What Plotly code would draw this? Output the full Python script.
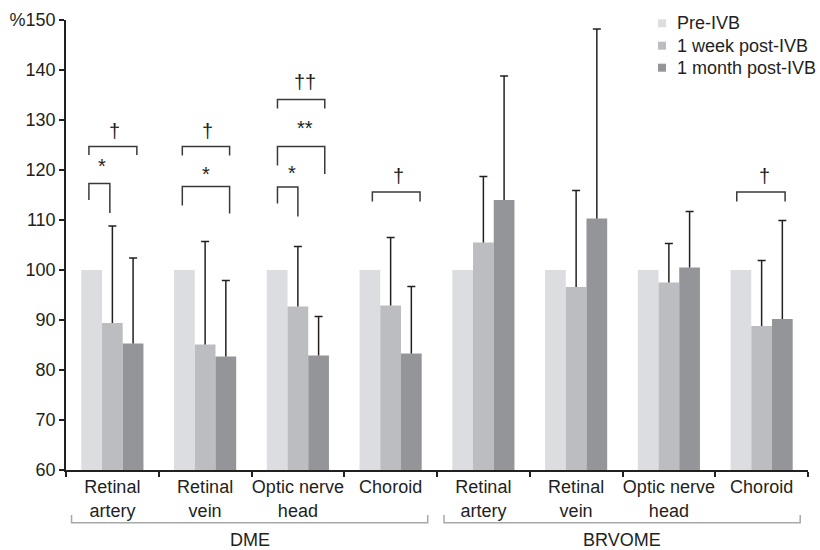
import plotly.graph_objects as go

# ---------------- data ----------------
categories = ["Retinal<br>artery", "Retinal<br>vein", "Optic nerve<br>head", "Choroid",
              "Retinal<br>artery", "Retinal<br>vein", "Optic nerve<br>head", "Choroid"]
groups = ["DME", "BRVOME"]
series_names = ["Pre-IVB", "1 week post-IVB", "1 month post-IVB"]
pre_ivb = [100, 100, 100, 100, 100, 100, 100, 100]
week_post = [89.4, 85.1, 92.7, 92.9, 105.5, 96.6, 97.5, 88.8]
month_post = [85.3, 82.7, 82.9, 83.3, 114.0, 110.3, 100.5, 90.2]
week_sd = [19.4, 20.6, 12.0, 13.6, 13.2, 19.3, 7.8, 13.1]
month_sd = [17.1, 15.2, 7.8, 13.4, 24.8, 37.9, 11.2, 19.7]
y_tickvals = [60, 70, 80, 90, 100, 110, 120, 130, 140, 150]
y_ticktext = ["60", "70", "80", "90", "100", "110", "120", "130", "140", "%150"]

# significance brackets: category index, x-offsets, top, left leg end, right leg end, label, label x-offset, label y
brackets = [
    (0, -0.253, -0.027, 117.3, 114.0, 111.4, "*", -0.113, 120.8),
    (0, -0.253, 0.264, 124.7, 123.0, 123.0, "†", 0.027, 127.9),
    (1, -0.246, 0.264, 116.7, 112.9, 111.3, "*", 0.013, 119.2),
    (1, -0.246, 0.264, 124.7, 122.9, 122.9, "†", 0.027, 127.9),
    (2, -0.220, 0.000, 116.6, 113.3, 110.7, "*", -0.060, 119.4),
    (2, -0.220, 0.290, 124.7, 120.9, 119.2, "**", 0.073, 128.4),
    (2, -0.220, 0.290, 134.1, 132.3, 132.3, "††", 0.073, 137.6),
    (3, -0.197, 0.317, 115.6, 113.7, 113.7, "†", 0.083, 118.8),
    (7, -0.268, 0.253, 115.6, 113.7, 113.7, "†", 0.030, 118.8),
]
# group underline spans (category units)
group_spans = [(-0.44, 3.40), (3.576, 7.416)]

colors = ["#dcdde0", "#bcbdc1", "#939598"]
ink = "#231f20"
font_family = "Liberation Sans, Arial, sans-serif"
fs = 18

x = list(range(len(categories)))
fig = go.Figure()
fig.add_trace(go.Bar(x=x, y=pre_ivb, name=series_names[0], marker=dict(color=colors[0], line_width=0),
                     offsetgroup="0", showlegend=False))
fig.add_trace(go.Bar(x=x, y=week_post, name=series_names[1], marker=dict(color=colors[1], line_width=0),
                     offsetgroup="1", showlegend=False,
                     error_y=dict(type="data", array=week_sd, arrayminus=[0] * 8, symmetric=False,
                                  color=ink, thickness=1.5, width=0)))
fig.add_trace(go.Bar(x=x, y=month_post, name=series_names[2], marker=dict(color=colors[2], line_width=0),
                     offsetgroup="2", showlegend=False,
                     error_y=dict(type="data", array=month_sd, arrayminus=[0] * 8, symmetric=False,
                                  color=ink, thickness=1.5, width=0)))
# caps of the error bars (invisible bars spanning the SD, zero-length error bar on top)
for vals, sds, g in [(week_post, week_sd, "1"), (month_post, month_sd, "2")]:
    fig.add_trace(go.Bar(x=x, y=sds, base=vals, offsetgroup=g, showlegend=False, hoverinfo="skip",
                         marker=dict(color="rgba(0,0,0,0)", line_width=0),
                         error_y=dict(type="data", array=[0] * 8, symmetric=True,
                                      color=ink, thickness=1.5, width=4)))

for (ci, x0, x1, top, yl, yr, lab, lx, ly) in brackets:
    fig.add_shape(type="path",
                  path=f"M {ci+x0},{yl} L {ci+x0},{top} L {ci+x1},{top} L {ci+x1},{yr}",
                  xref="x", yref="y", line=dict(color="#3a3a3a", width=1.5))
    fig.add_annotation(x=ci + lx, y=ly, text=lab, showarrow=False, xref="x", yref="y",
                       font=dict(size=20, color=ink, family=font_family), yanchor="middle")

for (a, b), g in zip(group_spans, groups):
    fig.add_shape(type="path",
                  path=f"M {a},-0.10 L {a},-0.117 L {b},-0.117 L {b},-0.10",
                  xref="x", yref="paper", line=dict(color="#a8a8a8", width=1.5))
    fig.add_annotation(x=(a + b) / 2, y=-0.156, text=g, showarrow=False, xref="x", yref="paper",
                       font=dict(size=fs, color=ink, family=font_family), yanchor="middle")

# legend (manual, to match compact row spacing)
leg_y = [0.9927, 0.9429, 0.8940]
for name, c, ly in zip(series_names, colors, leg_y):
    fig.add_shape(type="rect", xref="paper", yref="paper", xsizemode="pixel", ysizemode="pixel",
                  xanchor=0.8032, yanchor=ly, x0=-4, x1=4, y0=-4, y1=4,
                  fillcolor=c, line_width=0)
    fig.add_annotation(x=0.8208, y=ly, xref="paper", yref="paper", text=name, showarrow=False,
                       xanchor="left", yanchor="middle",
                       font=dict(size=fs, color=ink, family=font_family))

fig.update_layout(
    width=820, height=550,
    margin=dict(l=66, r=12, t=20, b=80, autoexpand=False),
    paper_bgcolor="white", plot_bgcolor="white",
    barmode="group", bargap=0.33, bargroupgap=0,
    font=dict(family=font_family, size=fs, color=ink),
    showlegend=False,
    xaxis=dict(range=[-0.5, 7.5], tickmode="array", tickvals=x, ticktext=categories,
               ticks="", showline=True, linecolor=ink, linewidth=1.5, showgrid=False, zeroline=False,
               tickfont=dict(size=fs, color=ink), automargin=False,
               minor=dict(tickmode="array", tickvals=[i - 0.5 for i in range(9)], ticks="outside",
                          ticklen=5, tickwidth=1.5, tickcolor=ink, showgrid=False)),
    yaxis=dict(range=[60, 150], tickmode="array", tickvals=y_tickvals, ticktext=y_ticktext,
               ticks="outside", ticklen=5, tickwidth=1.5, tickcolor=ink, automargin=False,
               showline=True, linecolor=ink, linewidth=1.5, showgrid=False, zeroline=False,
               tickfont=dict(size=fs, color=ink)),
)

fig.write_html("out.html", config={"displayModeBar": False},
               post_script="document.body.style.margin='0';document.body.style.overflow='hidden';")
